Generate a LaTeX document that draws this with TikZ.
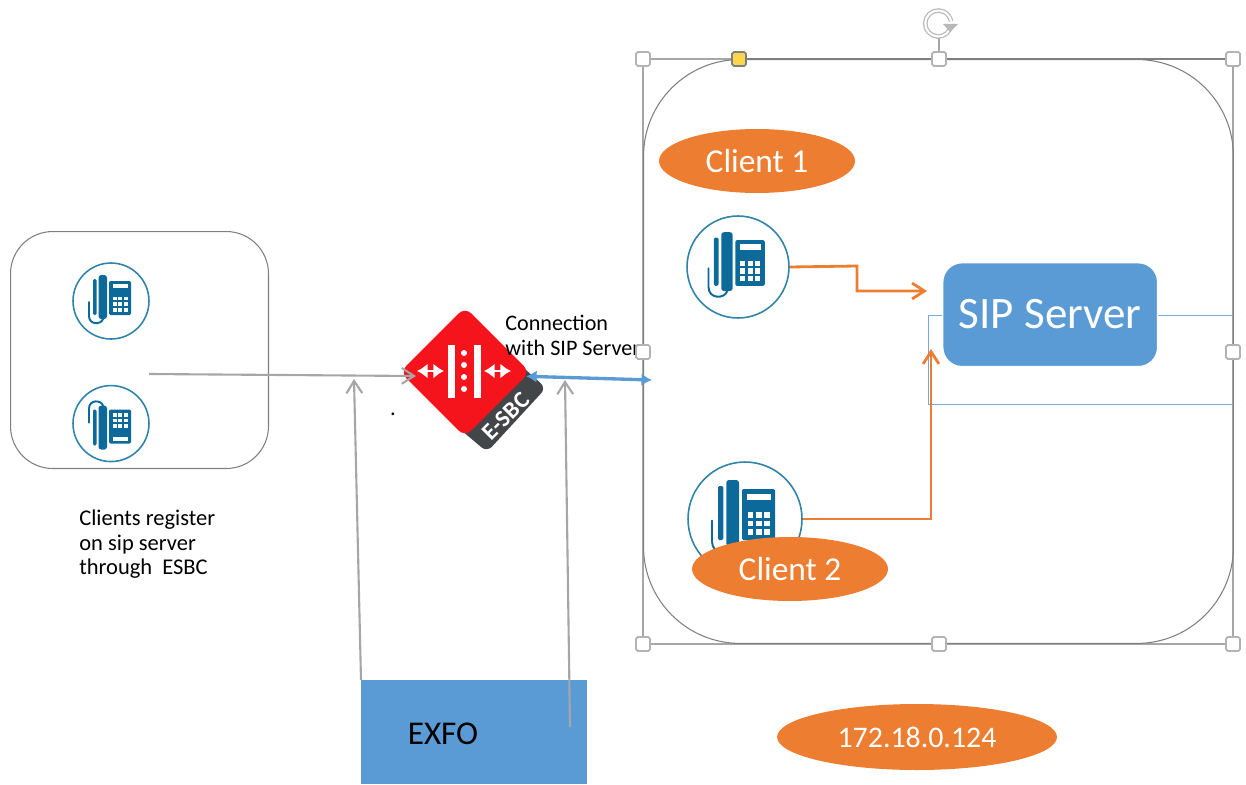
\documentclass[tikz,border=0pt]{standalone}
\usepackage{fontspec}
\setmainfont{Carlito}
\usetikzlibrary{positioning}
\usetikzlibrary{shapes.geometric}
\usetikzlibrary{arrows.meta}
\definecolor{shapeblue}{HTML}{5B9BD5}
\definecolor{shapeorange}{HTML}{ED7D31}
\definecolor{phoneblue}{HTML}{0B6A9A}
\definecolor{ringblue}{HTML}{2F84A8}
\definecolor{esbcred}{HTML}{F5141C}
\definecolor{esbcdark}{HTML}{434648}
\definecolor{linegray}{HTML}{A6A6A6}
\definecolor{framegray}{HTML}{7F7F7F}
\tikzset{
    deskphone/.pic = {
        \fill[phoneblue, rounded corners=0.8pt] (-18,-22) rectangle (-14.5,14);
        \fill[phoneblue, rounded corners=1.6pt] (-12.5,-26) rectangle (-4,18);
        \fill[phoneblue, rounded corners=0.8pt] (-2,-20) rectangle (20,14);
        \fill[white] (1.5,-17) rectangle (17,-13);
        \foreach \i in {0,1,2} {
            \foreach \j in {0,1,2} {
                \fill[white] (1.7+5.6*\i,-4.5+5.6*\j) rectangle ++(3.8,3.8);
            }
        }
        \draw[phoneblue, line width=1.1pt, line cap=round] (-22,1) -- (-22,15) .. controls (-22,24) and (-10,24) .. (-8,18);
    }
}
\begin{document}
\begin{tikzpicture} [x=0.02cm, y=-0.02cm,
        boxshape/.style = {draw=framegray, line width=0.6pt, inner sep=0, anchor=north west},
        phonering/.style = {draw=ringblue, circle, fill=white, line width=0.9pt, inner sep=0},
        oval/.style = {ellipse, fill=shapeorange, text=white, inner sep=0},
        handle/.style = {draw=linegray!85, fill=white, line width=1pt, rounded corners=1pt, inner sep=0, minimum size=0.28cm},
        grayarrow/.style = {draw=linegray, line width=1.2pt, -{Straight Barb[length=7pt, width=9pt]}},
        orangearrow/.style = {draw=shapeorange, line width=1.6pt, -{Straight Barb[length=7pt, width=9pt]}},
        whitearrow/.style = {white, line width=1.6pt, {Latex[length=6pt, width=8.5pt]}-{Latex[length=6pt, width=8.5pt]}}]
        \useasboundingbox (0,0) rectangle (1246,784);

        %Rahmen
        \draw[linegray, line width=0.6pt] (643,59) rectangle (1233,644);
        \node[boxshape, minimum width=11.8cm, minimum height=11.68cm, rounded corners=55pt] (lab) at (643,59) {};
        \node[boxshape, minimum width=5.16cm, minimum height=4.74cm, rounded corners=24pt] (clients) at (10,231) {};

        %Telefone links
        \node[phonering, minimum size=1.52cm] (ph1) at (111,301) {};
        \node[phonering, minimum size=1.52cm] (ph2) [below = 0.9cm of ph1] {};
        \pic at (ph1) {deskphone};
        \pic[yscale=-1] at (ph2) {deskphone};

        %E-SBC
        \fill[esbcdark, rounded corners=4pt] (515,360) -- (546,388) -- (487,452) -- (455,425) -- cycle;
        \node[diamond, fill=esbcred, rounded corners=5pt, minimum width=2.6cm, minimum height=2.6cm, inner sep=0] (esbc) at (465,372) {};
        \node[rotate=45, text=white, font=\fontsize{13.5pt}{13.5pt}\selectfont\bfseries] (esbctxt) at (506,416) {E-SBC};
        \fill[white] (448,345) rectangle (455,398);
        \fill[white] (474,345) rectangle (481,398);
        \foreach \y in {353,365,377,389} {
            \fill[white] (464,\y) circle (3);
        }
        \coordinate (al) at (417,371);
        \coordinate (ar) at (444,371);
        \coordinate (bl) at (484,371);
        \coordinate (br) at (511,371);
        \draw[whitearrow] (al) -- (ar);
        \draw[whitearrow] (bl) -- (br);

        %Server
        \coordinate (linkt) at (1233,315);
        \coordinate (linkb) at (1233,404);
        \draw[shapeblue!85, line width=0.55pt] (linkt) -- (928,315) -- (928,404) -- (linkb);
        \node[boxshape, draw=white, line width=0.8pt, fill=shapeblue, minimum width=4.3cm, minimum height=2.08cm, rounded corners=11pt, text=white, font=\fontsize{25.6pt}{25.6pt}\selectfont] (sip) at (942,262) {\raisebox{1pt}{SIP Server}\hspace{8.5pt}};

        %Telefone rechts
        \node[phonering, minimum size=2.04cm] (ph3) at (738,267) {};
        \node[phonering, minimum size=2.28cm] (ph4) at (745,519) {};
        \pic[scale=1.34] at (ph3) {deskphone};
        \pic[scale=1.5] at (ph4) {deskphone};

        \node[oval, minimum width=3.92cm, minimum height=1.28cm, font=\fontsize{19pt}{19pt}\selectfont] (cl1) at (757,161) {Client 1};
        \node[oval, minimum width=3.92cm, minimum height=1.28cm, font=\fontsize{19pt}{19pt}\selectfont] (cl2) at (790,569) {Client 2};
        \node[oval, minimum width=5.6cm, minimum height=1.32cm, font=\fontsize{17pt}{17pt}\selectfont] (ip) at (917,737) {172.18.0.124};

        %EXFO
        \node[anchor=north west, fill=shapeblue, inner sep=0, minimum width=4.52cm, minimum height=2.08cm] (exfo) at (361,680) {};
        \node[font=\fontsize{18.9pt}{18.9pt}\selectfont] (exfotxt) at (443,734) {EXFO};

        %Texte
        \node[anchor=north west, inner sep=0, align=left, font=\fontsize{12.8pt}{13.9pt}\selectfont] (regtxt) at (79,510) {Clients register\\on sip server\\through\ \ ESBC};
        \node[anchor=north west, inner sep=0, align=left, font=\fontsize{12.6pt}{13.9pt}\selectfont] (contxt) at (505,315) {Connection\\with SIP Server};
        \node[inner sep=0, font=\fontsize{12.8pt}{13.9pt}\selectfont] (dot) at (393,414) {.};

        %Kanten
        \coordinate (regstart) at (149,374);
        \coordinate (regend) at (416,376);
        \coordinate (exfol) at (354,379);
        \coordinate (exfostart) at (570,727);
        \coordinate (exfor) at (565,380);
        \coordinate (labin) at (652,380);
        \coordinate (tosip) at (927,291);
        \coordinate (tosipb) at (931,349);
        \coordinate (rot) at (939,38);

        \draw[grayarrow] (regstart) -- (regend);
        \draw[grayarrow] (exfo.north west) -- (exfol);
        \draw[grayarrow] (exfostart) -- (exfor);
        \draw[shapeblue, line width=1.9pt, {Latex[length=6pt, width=7pt]}-{Latex[length=6pt, width=7pt]}] (esbc.-4) -- (labin);
        \draw[orangearrow] (ph3.east) -- (857,266) -- (857,291) -- (tosip);
        \draw[orangearrow] (ph4.east) -- (931,519) -- (tosipb);

        %Griffe
        \node[handle] (hnw) at (643,59) {};
        \node[handle] (hn) at (939,59) {};
        \node[handle] (hne) at (1233,59) {};
        \node[handle] (hw) at (643,352) {};
        \node[handle] (he) at (1233,352) {};
        \node[handle] (hsw) at (643,644) {};
        \node[handle] (hs) at (939,644) {};
        \node[handle] (hse) at (1233,644) {};
        \node[handle, draw=framegray, fill=yellow!60!orange!70!white] (hadj) at (739,59) {};
        \draw[framegray, line width=1.1pt] (hadj) -- (hn);
        \draw[framegray, line width=1.1pt] (hn) -- (hne);
        \draw[linegray, line width=0.8pt] (hn) -- (rot);
        \draw[linegray!80, line width=2.6pt] (950,29) arc[start angle=25, end angle=350, radius=13];
        \draw[white, line width=1.2pt] (950,29) arc[start angle=25, end angle=350, radius=13];
        \fill[linegray!80] (958,24) -- (943,24) -- (950,32) -- cycle;

\end{tikzpicture}
\end{document}
